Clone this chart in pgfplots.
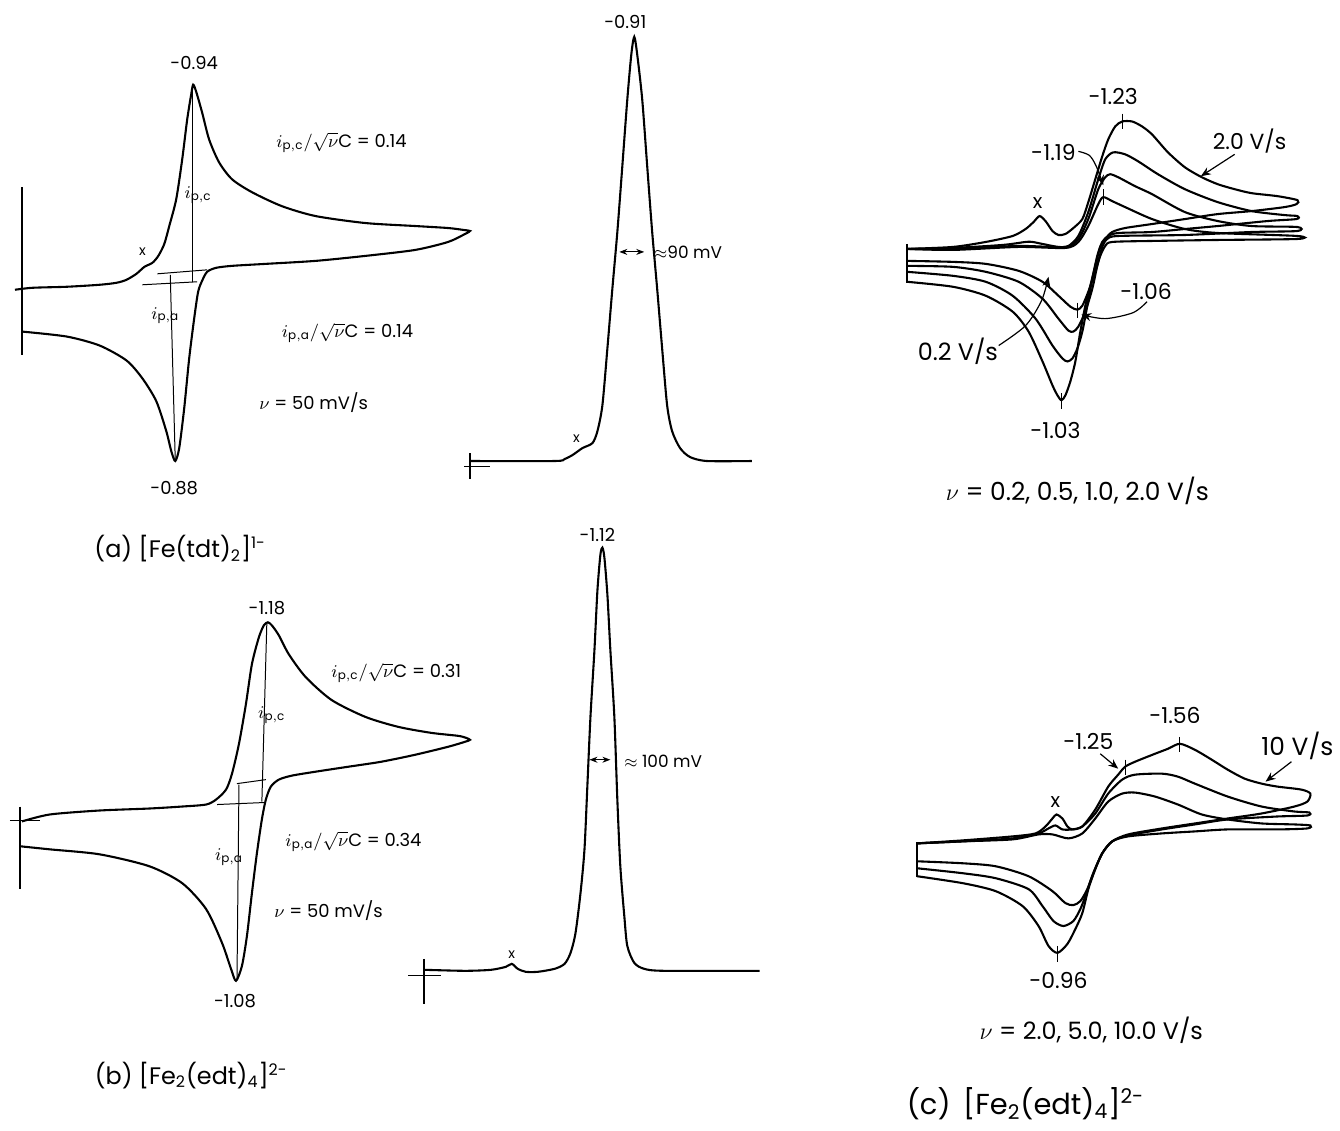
\documentclass[border=0pt]{standalone}
\usepackage{pgfplots}
\pgfplotsset{compat=1.18}
\usepackage{fontspec}
\setmainfont{Poppins}
\usetikzlibrary{arrows.meta}
\newcommand\fs[1]{\fontsize{#1}{#1}\selectfont}
\newcommand\ipc{$i_{\mathrm{p,c}}$}
\newcommand\ipa{$i_{\mathrm{p,a}}$}
\begin{document}
\begin{tikzpicture}
\begin{axis}[
  scale only axis, width=670pt, height=567.5pt,
  xmin=0, xmax=1340, ymin=0, ymax=1135, y dir=reverse,
  hide axis, clip=false,
  every axis plot/.append style={black, no markers},
  cv/.style={line width=1.05pt, smooth, tension=0.45},
  thinl/.style={line width=0.5pt},
  bar/.style={line width=0.8pt},
  arr/.style={line width=0.6pt, -{Stealth[length=5pt,width=4pt]}},
]
\path (axis cs:0,0) -- (axis cs:1340,1135);

% ---------------- (a) CV of [Fe(tdt)2]1-
\addplot[cv] coordinates {(15,291) (33,289) (67,288) (100,286) (117,284) (127,281) (137,275) (145,268) (153,264) (159,257) (165,245) (170,227) (177,200) (183,160) (188,120) (192,95) (194,85) (197,92) (203,113) (210,140) (220,163) (233,180) (253,193) (283,207) (317,217) (367,224) (417,227) (450,229) (466,231) (472,232) (467,235) (450,243) (417,251) (367,257) (317,262) (267,265) (233,267) (217,269) (208,273) (203,282) (199,293) (195,320) (190,360) (185,410) (180,450) (176,463) (172,453) (167,433) (157,403) (143,380) (127,362) (100,347) (67,338) (22,333)};
\addplot[bar] coordinates {(22,188) (22,357)};
\addplot[thinl] coordinates {(158,275) (208,271)};
\addplot[thinl] coordinates {(143,286) (198,283)};
\addplot[thinl] coordinates {(193,88) (193,283)};
\addplot[thinl] coordinates {(171,276) (176,462)};
\node[font=\fs{9}] at (axis cs:195,63) {-0.94};
\node[font=\fs{9}] at (axis cs:175,490) {-0.88};
\node[font=\fs{7}] at (axis cs:143,253) {x};
\node[font=\fs{9}] at (axis cs:199,196) {\ipc};
\node[font=\fs{9}] at (axis cs:166,317) {\ipa};
\node[font=\fs{9}] at (axis cs:343,143) {\ipc$/\sqrt{\nu}$C = 0.14};
\node[font=\fs{9}] at (axis cs:349,334) {\ipa$/\sqrt{\nu}$C = 0.14};
\node[font=\fs{9}] at (axis cs:315,404) {$\nu$ = 50 mV/s};

% ---------------- (a) peak
\addplot[cv] coordinates {(472,463) (557,463) (567,461) (575,457) (585,450) (595,445) (600,433) (605,407) (610,350) (615,290) (620,233) (625,167) (630,100) (634,55) (637,37) (640,55) (645,100) (650,167) (655,233) (660,290) (665,350) (670,407) (675,433) (683,450) (693,459) (710,463) (755,463)};
\addplot[bar] coordinates {(472,455) (472,481)};
\addplot[thinl] coordinates {(466,469) (492,469)};
\addplot[thinl, {Stealth[length=4pt,width=3pt]}-{Stealth[length=4pt,width=3pt]}] coordinates {(622,253) (647,253)};
\node[font=\fs{8.5}, anchor=west] at (axis cs:650,253) {$\approx$90 mV};
\node[font=\fs{9}] at (axis cs:628,22) {-0.91};
\node[font=\fs{7}] at (axis cs:579,441) {x};

% ---------------- (a) label
\node[font=\fs{12}] at (axis cs:181,551) {(a) [Fe(tdt)\textsubscript{2}]\textsuperscript{1-}};

% ---------------- (b) CV
\addplot[cv] coordinates {(22,825) (50,818) (100,814) (150,812) (183,810) (207,808) (217,803) (227,793) (233,777) (240,747) (247,707) (253,667) (260,640) (265,628) (269,625) (273,628) (280,638) (290,657) (307,680) (333,703) (367,720) (400,730) (433,736) (460,739) (468,741) (472,743) (467,745) (450,750) (417,758) (383,765) (350,770) (317,775) (293,779) (280,783) (272,790) (267,803) (263,823) (258,857) (253,897) (248,940) (243,970) (237,985) (232,973) (223,947) (207,913) (183,887) (150,870) (100,858) (50,853) (21,850)};
\addplot[bar] coordinates {(20,810) (20,893)};
\addplot[thinl] coordinates {(10,824) (40,824)};
\addplot[thinl] coordinates {(238,787) (267,783)};
\addplot[thinl] coordinates {(218,808) (265,806)};
\addplot[thinl] coordinates {(268,625) (263,805)};
\addplot[thinl] coordinates {(240,788) (238,985)};
\node[font=\fs{9}] at (axis cs:268,611) {-1.18};
\node[font=\fs{9}] at (axis cs:236,1005) {-1.08};
\node[font=\fs{9}] at (axis cs:273,718) {\ipc};
\node[font=\fs{9}] at (axis cs:230,861) {\ipa};
\node[font=\fs{9}] at (axis cs:398,676) {\ipc$/\sqrt{\nu}$C = 0.31};
\node[font=\fs{9}] at (axis cs:355,845) {\ipa$/\sqrt{\nu}$C = 0.34};
\node[font=\fs{9}] at (axis cs:330,915) {$\nu$ = 50 mV/s};

% ---------------- (b) peak
\addplot[cv] coordinates {(427,974) (467,975) (493,974) (508,971) (514,968) (520,973) (528,976) (540,976) (557,973) (567,968) (573,957) (578,937) (583,897) (587,853) (590,787) (593,720) (597,653) (600,593) (603,557) (605,550) (607,560) (610,597) (613,653) (617,720) (620,803) (623,870) (627,920) (630,950) (637,967) (647,973) (667,975) (763,975)};
\addplot[bar] coordinates {(426,963) (426,1008)};
\addplot[thinl] coordinates {(410,980) (443,980)};
\addplot[thinl, {Stealth[length=4pt,width=3pt]}-{Stealth[length=4pt,width=3pt]}] coordinates {(592,763) (613,763)};
\node[font=\fs{8.5}, anchor=west] at (axis cs:620,765) {$\approx$ 100 mV};
\node[font=\fs{9}] at (axis cs:600,537) {-1.12};
\node[font=\fs{7}] at (axis cs:514,959) {x};

% ---------------- (b) label
\node[font=\fs{12}] at (axis cs:192,1080) {(b) [Fe\textsubscript{2}(edt)\textsubscript{4}]\textsuperscript{2-}};

% ---------------- (c) top: 0.2, 0.5, 1.0, 2.0 V/s
% 2.0 V/s
\addplot[cv] coordinates {(911,250) (957,248) (990,243) (1017,237) (1030,230) (1038,223) (1044,217) (1050,222) (1057,232) (1063,236) (1070,235) (1078,229) (1087,220) (1093,203) (1100,180) (1107,157) (1113,140) (1120,127) (1127,122) (1137,122) (1147,127) (1157,135) (1173,153) (1190,168) (1207,178) (1223,185) (1240,190) (1257,194) (1283,197) (1303,201) (1302,205) (1290,208) (1257,212) (1223,215) (1190,220) (1157,225) (1130,229) (1117,233) (1110,240) (1105,248) (1100,267) (1095,287) (1090,307) (1085,333) (1080,363) (1075,383) (1070,397) (1066,402) (1062,397) (1057,387) (1047,363) (1033,333) (1017,313) (990,297) (957,288) (911,283)};
% 1.0 V/s
\addplot[cv] coordinates {(911,250) (957,249) (1007,246) (1030,243) (1037,243) (1047,245) (1063,248) (1073,247) (1083,237) (1093,213) (1103,180) (1110,160) (1118,153) (1130,155) (1143,162) (1163,175) (1190,190) (1223,203) (1257,212) (1290,216) (1303,217) (1302,220) (1273,222) (1223,227) (1190,230) (1157,233) (1123,234) (1113,237) (1107,243) (1102,257) (1097,280) (1092,307) (1087,333) (1082,350) (1077,360) (1072,363) (1067,360) (1057,347) (1040,320) (1017,297) (990,283) (957,277) (911,273)};
% 0.5 V/s
\addplot[cv] coordinates {(911,250) (957,250) (1023,247) (1070,248) (1083,240) (1093,220) (1103,190) (1110,178) (1115,175) (1123,178) (1140,187) (1157,195) (1190,213) (1223,222) (1257,227) (1303,228) (1303,232) (1257,233) (1190,236) (1123,237) (1112,240) (1107,248) (1102,267) (1097,290) (1090,313) (1083,328) (1078,333) (1073,332) (1063,320) (1047,300) (1023,283) (990,273) (957,268) (911,267)};
% 0.2 V/s
\addplot[cv] coordinates {(911,250) (957,251) (1023,248) (1070,249) (1083,243) (1093,227) (1103,205) (1108,198) (1117,202) (1130,208) (1157,220) (1190,230) (1223,234) (1303,237) (1303,240) (1223,241) (1157,242) (1117,243) (1110,247) (1105,257) (1100,273) (1093,293) (1087,307) (1082,311) (1075,308) (1063,297) (1047,283) (1023,272) (990,265) (957,263) (911,262)};
\addplot[bar] coordinates {(911,245) (911,284)};
\addplot[thinl] coordinates {(1127,114) (1127,130)};
\addplot[thinl] coordinates {(1066,395) (1066,411)};
\addplot[thinl] coordinates {(1108,190) (1108,206)};
\addplot[thinl] coordinates {(1082,304) (1082,319)};
\addplot[arr, smooth] coordinates {(1083,152) (1094,156) (1101,167) (1108,186)};
\addplot[arr] coordinates {(1240,155) (1206,177)};
\addplot[arr, smooth] coordinates {(1152,303) (1138,314) (1110,320) (1086,316)};
\addplot[arr, smooth] coordinates {(1003,347) (1030,327) (1046,302) (1053,278)};
\node[font=\fs{11}] at (axis cs:1118,97) {-1.23};
\node[font=\fs{11}] at (axis cs:1058,153) {-1.19};
\node[font=\fs{11}] at (axis cs:1255,142) {2.0 V/s};
\node[font=\fs{10}] at (axis cs:1042,204) {x};
\node[font=\fs{11}] at (axis cs:1151,293) {-1.06};
\node[font=\fs{12}] at (axis cs:962,353) {0.2 V/s};
\node[font=\fs{11}] at (axis cs:1060,432) {-1.03};
\node[font=\fs{12.5}] at (axis cs:1082,493) {$\nu$ = 0.2, 0.5, 1.0, 2.0 V/s};

% ---------------- (c) bottom: 2.0, 5.0, 10 V/s
% 10 V/s
\addplot[cv] coordinates {(921,847) (967,844) (1017,840) (1040,837) (1050,830) (1057,822) (1061,818) (1067,822) (1072,830) (1077,833) (1087,830) (1100,813) (1113,790) (1123,778) (1130,770) (1140,765) (1160,757) (1173,752) (1185,747) (1200,753) (1217,763) (1233,773) (1250,782) (1267,787) (1283,790) (1307,793) (1316,797) (1313,805) (1300,810) (1267,817) (1233,822) (1200,827) (1167,832) (1133,838) (1117,845) (1107,857) (1100,873) (1093,893) (1087,917) (1080,933) (1072,948) (1062,957) (1053,950) (1043,930) (1027,910) (1000,895) (967,887) (921,880)};
% 5 V/s
\addplot[cv] coordinates {(921,847) (967,845) (1017,842) (1043,837) (1053,832) (1060,829) (1067,833) (1077,833) (1087,830) (1100,817) (1113,797) (1127,783) (1140,778) (1167,777) (1183,780) (1200,787) (1233,800) (1267,810) (1300,815) (1315,816) (1313,819) (1283,820) (1233,823) (1200,828) (1167,833) (1133,839) (1117,845) (1107,857) (1098,877) (1090,900) (1085,913) (1078,925) (1068,930) (1058,925) (1047,910) (1033,893) (1000,882) (967,877) (921,872)};
% 2 V/s
\addplot[cv] coordinates {(921,847) (967,845) (1017,843) (1043,838) (1057,838) (1073,842) (1087,837) (1100,822) (1113,805) (1127,797) (1140,796) (1160,800) (1183,808) (1207,818) (1233,823) (1267,827) (1300,828) (1316,829) (1313,832) (1283,833) (1233,833) (1200,835) (1167,837) (1133,840) (1117,845) (1107,857) (1098,877) (1092,893) (1085,905) (1078,909) (1070,907) (1057,895) (1033,880) (1000,870) (967,867) (921,865)};
\addplot[bar] coordinates {(921,846) (921,881)};
\addplot[thinl] coordinates {(1130,763) (1130,778)};
\addplot[thinl] coordinates {(1185,740) (1185,755)};
\addplot[thinl] coordinates {(1062,950) (1062,966)};
\addplot[arr] coordinates {(1105,757) (1123,772)};
\addplot[arr] coordinates {(1297,765) (1271,785)};
\node[font=\fs{10}] at (axis cs:1060,806) {x};
\node[font=\fs{11}] at (axis cs:1093,745) {-1.25};
\node[font=\fs{11}] at (axis cs:1180,719) {-1.56};
\node[font=\fs{12.5}] at (axis cs:1303,749) {10 V/s};
\node[font=\fs{11}] at (axis cs:1063,985) {-0.96};
\node[font=\fs{12}] at (axis cs:1096,1035) {$\nu$ = 2.0, 5.0, 10.0 V/s};
\node[font=\fs{14.5}] at (axis cs:1030,1108) {(c) \,[Fe\textsubscript{2}(edt)\textsubscript{4}]\textsuperscript{2-}};
\end{axis}
\end{tikzpicture}
\end{document}
